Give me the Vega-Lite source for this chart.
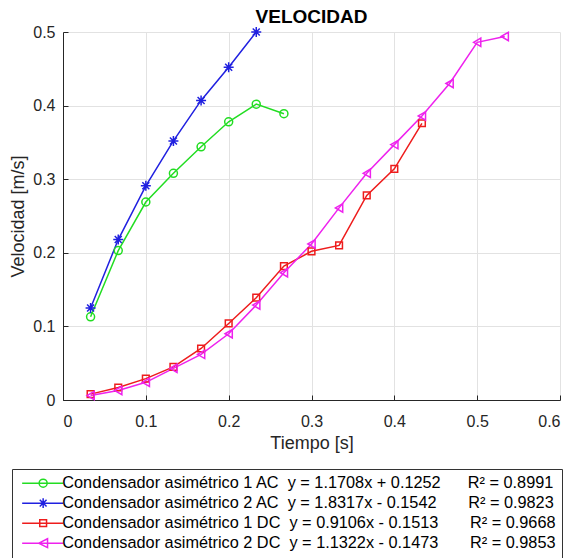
{
  "$schema": "https://vega.github.io/schema/vega-lite/v6.json",
  "width": 497,
  "height": 368,
  "autosize": {"type": "none"},
  "padding": {"left": 63, "top": 32, "right": 13, "bottom": 158},
  "background": "white",
  "title": {"text": "VELOCIDAD", "fontSize": 19, "fontWeight": "bold", "font": "Liberation Sans", "color": "#000000", "offset": -3, "anchor": "middle"},
  "data": {
    "values": [
      {"s": "1AC", "t": 0.0333, "v": 0.113},
      {"s": "1AC", "t": 0.0667, "v": 0.203},
      {"s": "1AC", "t": 0.1, "v": 0.269},
      {"s": "1AC", "t": 0.1333, "v": 0.308},
      {"s": "1AC", "t": 0.1667, "v": 0.344},
      {"s": "1AC", "t": 0.2, "v": 0.378},
      {"s": "1AC", "t": 0.2333, "v": 0.402},
      {"s": "1AC", "t": 0.2667, "v": 0.389},
      {"s": "2AC", "t": 0.0333, "v": 0.125},
      {"s": "2AC", "t": 0.0667, "v": 0.218},
      {"s": "2AC", "t": 0.1, "v": 0.291},
      {"s": "2AC", "t": 0.1333, "v": 0.352},
      {"s": "2AC", "t": 0.1667, "v": 0.407},
      {"s": "2AC", "t": 0.2, "v": 0.452},
      {"s": "2AC", "t": 0.2333, "v": 0.5},
      {"s": "1DC", "t": 0.0333, "v": 0.008},
      {"s": "1DC", "t": 0.0667, "v": 0.017},
      {"s": "1DC", "t": 0.1, "v": 0.029},
      {"s": "1DC", "t": 0.1333, "v": 0.045},
      {"s": "1DC", "t": 0.1667, "v": 0.07},
      {"s": "1DC", "t": 0.2, "v": 0.104},
      {"s": "1DC", "t": 0.2333, "v": 0.139},
      {"s": "1DC", "t": 0.2667, "v": 0.182},
      {"s": "1DC", "t": 0.3, "v": 0.202},
      {"s": "1DC", "t": 0.3333, "v": 0.21},
      {"s": "1DC", "t": 0.3667, "v": 0.278},
      {"s": "1DC", "t": 0.4, "v": 0.314},
      {"s": "1DC", "t": 0.4333, "v": 0.376},
      {"s": "2DC", "t": 0.0333, "v": 0.006},
      {"s": "2DC", "t": 0.0667, "v": 0.013},
      {"s": "2DC", "t": 0.1, "v": 0.024},
      {"s": "2DC", "t": 0.1333, "v": 0.043},
      {"s": "2DC", "t": 0.1667, "v": 0.062},
      {"s": "2DC", "t": 0.2, "v": 0.09},
      {"s": "2DC", "t": 0.2333, "v": 0.129},
      {"s": "2DC", "t": 0.2667, "v": 0.173},
      {"s": "2DC", "t": 0.3, "v": 0.212},
      {"s": "2DC", "t": 0.3333, "v": 0.261},
      {"s": "2DC", "t": 0.3667, "v": 0.308},
      {"s": "2DC", "t": 0.4, "v": 0.347},
      {"s": "2DC", "t": 0.4333, "v": 0.386},
      {"s": "2DC", "t": 0.4667, "v": 0.43},
      {"s": "2DC", "t": 0.5, "v": 0.486},
      {"s": "2DC", "t": 0.5333, "v": 0.494}
    ]
  },
  "encoding": {
    "x": {
      "field": "t", "type": "quantitative",
      "scale": {"domain": [0, 0.6], "nice": false, "zero": false},
      "axis": {"title": "Tiempo [s]", "values": [0, 0.1, 0.2, 0.3, 0.4, 0.5, 0.6], "format": "~g", "labelPadding": 18, "titlePadding": 5}
    },
    "y": {
      "field": "v", "type": "quantitative",
      "scale": {"domain": [0, 0.5], "nice": false, "zero": false},
      "axis": {"title": "Velocidad [m/s]", "values": [0, 0.1, 0.2, 0.3, 0.4, 0.5], "format": "~g", "labelPadding": 13, "titlePadding": 5}
    },
    "color": {
      "field": "s", "type": "nominal",
      "scale": {"domain": ["1AC", "2AC", "1DC", "2DC"], "range": ["#22dd22", "#2020e0", "#ee1c1c", "#ee22ee"]},
      "legend": {
        "orient": "none", "legendX": -51, "legendY": 437, "title": null, "direction": "vertical",
        "padding": 6, "strokeColor": "#333333", "fillColor": "white",
        "labelFontSize": 16.3, "labelFont": "Liberation Sans", "labelColor": "#000000",
        "labelOffset": 28, "rowPadding": 3, "symbolSize": 64, "symbolStrokeWidth": 1.5, "labelLimit": 1000,
        "labelExpr": "datum.value == '1AC' ? 'Condensador asimétrico 1 AC\u00a0\u00a0y = 1.1708x + 0.1252\u00a0\u00a0\u00a0\u00a0\u00a0\u00a0R² = 0.8991' : datum.value == '2AC' ? 'Condensador asimétrico 2 AC\u00a0\u00a0y = 1.8317x - 0.1542\u00a0\u00a0\u00a0\u00a0\u00a0\u00a0\u00a0R² = 0.9823' : datum.value == '1DC' ? 'Condensador asimétrico 1 DC\u00a0\u00a0y = 0.9106x - 0.1513\u00a0\u00a0\u00a0\u00a0\u00a0\u00a0\u00a0R² = 0.9668' : 'Condensador asimétrico 2 DC\u00a0\u00a0y = 1.1322x - 0.1473\u00a0\u00a0\u00a0\u00a0\u00a0\u00a0\u00a0R² = 0.9853'"
      }
    }
  },
  "layer": [
    {"mark": {"type": "line", "strokeWidth": 1.5}},
    {"transform": [{"filter": "datum.s == '1AC'"}], "mark": {"type": "point", "shape": "circle", "filled": false, "size": 64, "strokeWidth": 1.5, "opacity": 1}},
    {"transform": [{"filter": "datum.s == '2AC'"}], "mark": {"type": "point", "shape": "M-1,0L1,0M0,-1L0,1M-0.7,-0.7L0.7,0.7M-0.7,0.7L0.7,-0.7", "filled": false, "size": 100, "strokeWidth": 1.5, "opacity": 1}},
    {"transform": [{"filter": "datum.s == '1DC'"}], "mark": {"type": "point", "shape": "square", "filled": false, "size": 45, "strokeWidth": 1.5, "opacity": 1}},
    {"transform": [{"filter": "datum.s == '2DC'"}], "mark": {"type": "point", "shape": "triangle-left", "filled": false, "size": 70, "strokeWidth": 1.5, "opacity": 1}},
    {
      "transform": [{"filter": "datum.t < 0"}],
      "mark": {"type": "point", "filled": false, "size": 64, "strokeWidth": 1.5, "opacity": 1},
      "encoding": {
        "shape": {
          "field": "s", "type": "nominal",
          "scale": {
            "domain": ["1AC", "2AC", "1DC", "2DC"],
            "range": [
              "M-1,0L9.25,0M5.25,0A1,1 0 1,1 3.25,0A1,1 0 1,1 5.25,0",
              "M-1,0L9.25,0M4.25,-1.2L4.25,1.2M3.4,-0.85L5.1,0.85M3.4,0.85L5.1,-0.85",
              "M-1,0L9.25,0M3.4,-0.85L5.1,-0.85L5.1,0.85L3.4,0.85Z",
              "M-1,0L9.25,0M5.35,-1.1L3.15,0L5.35,1.1Z"
            ]
          },
          "legend": {
            "orient": "none", "legendX": -51, "legendY": 437, "title": null, "direction": "vertical",
            "padding": 6, "strokeColor": "#333333", "fillColor": "white",
            "labelFontSize": 16.3, "labelFont": "Liberation Sans", "labelColor": "#000000",
            "labelOffset": 28, "rowPadding": 3, "symbolSize": 64, "symbolStrokeWidth": 1.5, "labelLimit": 1000
          }
        }
      }
    }
  ],
  "config": {
    "font": "Liberation Sans",
    "view": {"stroke": null},
    "axis": {
      "grid": true, "gridColor": "#e2e2e2", "gridWidth": 1,
      "domainColor": "#262626", "tickColor": "#262626", "tickSize": -5,
      "labelColor": "#262626", "titleColor": "#262626",
      "labelFontSize": 16, "titleFontSize": 18, "titleFontWeight": "normal",
      "labelFont": "Liberation Sans", "titleFont": "Liberation Sans"
    }
  }
}
